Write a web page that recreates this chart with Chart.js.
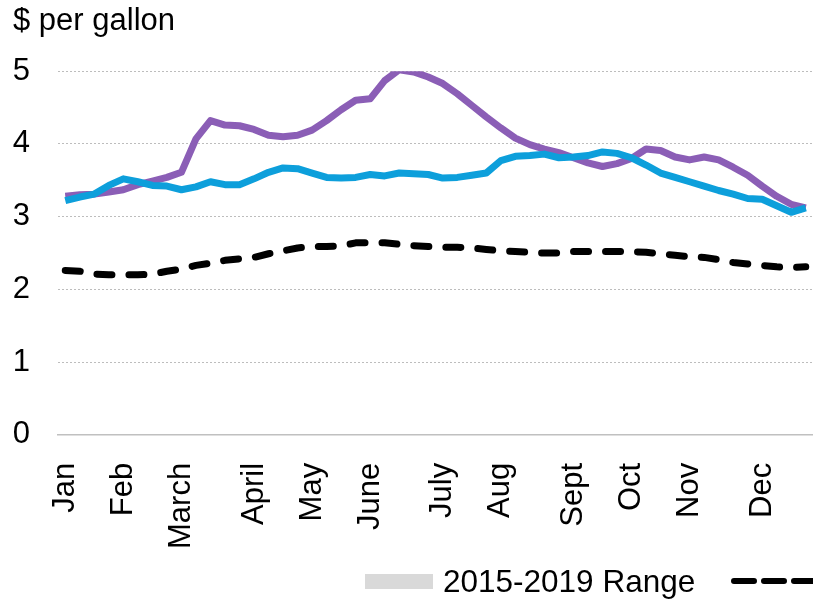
<html><head><meta charset="UTF-8"><title>Gasoline price</title>
<style>
body { margin: 0; background: #fff; overflow: hidden; font-family: "Liberation Sans", Arial, sans-serif; }
.wrap { position: relative; width: 813px; height: 601px; }
#legend { position: absolute; left: 365px; top: 564px; height: 34px; white-space: nowrap; display: flex; align-items: center; font-size: 31.5px; color: #000; }
#legend .box { width: 68px; height: 15px; background: #d9d9d9; margin-right: 10px; }
#legend svg { margin-left: 36px; margin-right: 8px; }
</style>
<script src="https://cdn.jsdelivr.net/npm/chart.js"></script>
</head>
<body>
<div class="wrap">
    <canvas id="chart" width="813" height="601"></canvas>
    <div id="legend"></div>
</div>
<script>
// weekly points, month names where the month starts
const monthNames = ['Jan', 'Feb', 'March', 'April', 'May', 'June', 'July', 'Aug', 'Sept', 'Oct', 'Nov', 'Dec'];
const monthWeeks = [0, 4, 8, 13, 17, 21, 26, 30, 35, 39, 43, 48];

const price2022 = [3.28, 3.30, 3.31, 3.34, 3.37, 3.44, 3.49, 3.54, 3.61, 4.07,
    4.32, 4.26, 4.25, 4.20, 4.12, 4.10, 4.12, 4.19, 4.32, 4.47,
    4.60, 4.62, 4.87, 5.02, 4.99, 4.92, 4.83, 4.69, 4.53, 4.37,
    4.22, 4.08, 3.99, 3.93, 3.88, 3.81, 3.74, 3.69, 3.73, 3.80,
    3.93, 3.91, 3.82, 3.78, 3.82, 3.78, 3.68, 3.57, 3.42, 3.28,
    3.17, 3.12];
const price2023 = [3.22, 3.27, 3.31, 3.43, 3.52, 3.48, 3.43, 3.42, 3.37, 3.41,
    3.48, 3.44, 3.44, 3.52, 3.61, 3.67, 3.66, 3.60, 3.54, 3.53,
    3.54, 3.58, 3.56, 3.60, 3.59, 3.58, 3.53, 3.54, 3.57, 3.60,
    3.77, 3.83, 3.84, 3.86, 3.81, 3.82, 3.84, 3.89, 3.87, 3.81,
    3.71, 3.60, 3.54, 3.48, 3.42, 3.36, 3.31, 3.25, 3.24, 3.15,
    3.06, 3.12];
const avg2015_2019 = [2.26, 2.25, 2.21, 2.20, 2.20, 2.20, 2.21, 2.25, 2.28, 2.33,
    2.36, 2.40, 2.42, 2.44, 2.49, 2.53, 2.57, 2.59, 2.59, 2.60,
    2.64, 2.64, 2.64, 2.62, 2.60, 2.59, 2.58, 2.58, 2.57, 2.55,
    2.53, 2.52, 2.51, 2.50, 2.50, 2.52, 2.52, 2.52, 2.52, 2.52,
    2.51, 2.49, 2.47, 2.45, 2.44, 2.41, 2.37, 2.35, 2.33, 2.31,
    2.30, 2.31];

const yTicks = [0, 1, 2, 3, 4, 5];

const labels = price2022.map((v, i) => {
    const k = monthWeeks.indexOf(i);
    return k === -1 ? '' : monthNames[k];
});

const FONT = '"Liberation Sans", Arial, sans-serif';

const chart = new Chart(document.getElementById('chart'), {
    type: 'line',
    data: {
        labels: labels,
        datasets: [
            {
                label: '2015-2019 Average',
                data: avg2015_2019,
                borderColor: '#000000',
                borderWidth: 7,
                borderDash: [15, 17],
                borderCapStyle: 'round'
            },
            {
                label: '2023',
                data: price2023,
                borderColor: '#0d9fdb',
                borderWidth: 7
            },
            {
                label: '2022',
                data: price2022,
                borderColor: '#8b5eb6',
                borderWidth: 7
            }
        ]
    },
    options: {
        responsive: false,
        animation: false,
        elements: {
            point: { radius: 0 },
            line: { tension: 0, borderJoinStyle: 'round' }
        },
        layout: { padding: { left: 13, right: 0, top: 0, bottom: 32 } },
        plugins: {
            legend: { display: false },
            tooltip: { enabled: false },
            title: {
                display: true,
                text: '$ per gallon',
                align: 'start',
                color: '#000',
                font: { family: FONT, size: 31, weight: 'normal' },
                padding: { top: 3, bottom: 31 }
            }
        },
        scales: {
            x: {
                offset: true,
                grid: { display: false },
                border: { display: true, color: '#c0c0c0', width: 1.5 },
                afterFit: s => { s.paddingRight = 0; s.paddingLeft = 0; },
                ticks: {
                    autoSkip: false,
                    maxRotation: 90,
                    minRotation: 90,
                    padding: 20,
                    color: '#000',
                    font: { family: FONT, size: 31 }
                }
            },
            y: {
                min: 0,
                max: 5,
                afterBuildTicks: axis => { axis.ticks = yTicks.map(v => ({ value: v })); },
                afterFit: s => { s.width = 45; },
                border: { display: false, dash: [2, 2] },
                grid: {
                    drawTicks: false,
                    lineWidth: 1,
                    color: ctx => ctx.tick && ctx.tick.value === 0 ? 'rgba(0,0,0,0)' : '#bdbdbd'
                },
                ticks: {
                    padding: 28,
                    color: '#000',
                    font: { family: FONT, size: 31 }
                }
            }
        }
    }
});

// legend under the chart, the last entry runs off the right edge as in the source
const legend = document.getElementById('legend');
legend.innerHTML =
    '<span class="box"></span><span>2015-2019 Range</span>' +
    '<svg width="90" height="12"><line x1="3" y1="6" x2="87" y2="6" stroke="#000" stroke-width="6" stroke-linecap="round" stroke-dasharray="20 10"/></svg>' +
    '<span>' + chart.data.datasets[0].label + '</span>';
</script>
</body></html>
